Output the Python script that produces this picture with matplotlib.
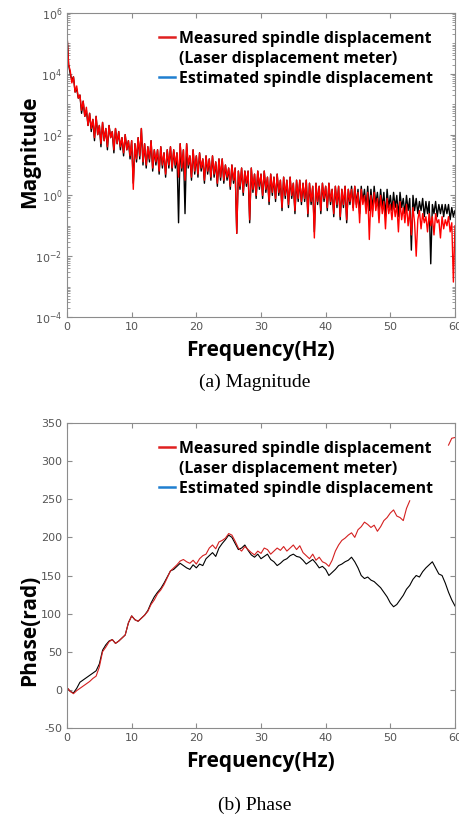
import numpy as np
import matplotlib.pyplot as plt
from matplotlib.lines import Line2D
from matplotlib.ticker import LogLocator, NullFormatter, FixedLocator

plt.rcParams['axes.unicode_minus'] = False

# magnitude spectra, log10 values, 0.25 Hz apart
mag_measured_log = [
    5.3, 4.3, 4.1, 3.7, 3.9, 3.4, 3.6, 3.2,
    3.3, 2.8, 3.1, 2.6, 2.9, 2.3, 2.7, 2.2,
    2.5, 1.9, 2.6, 2.0, 2.3, 1.7, 2.4, 1.8,
    2.2, 1.6, 2.3, 1.9, 2.1, 1.5, 2.2, 1.7,
    2.1, 1.6, 1.9, 1.4, 2.0, 1.5, 1.8, 1.3,
    1.8, 0.2, 1.7, 1.2, 1.9, 1.3, 2.2, 1.1,
    1.7, 1.0, 1.6, 1.2, 1.8, 0.9, 1.5, 1.1,
    1.5, 0.8, 1.6, 1.0, 1.4, 0.7, 1.5, 1.0,
    1.6, 0.9, 1.5, 1.0, 1.4, 0.6, 1.7, 0.9,
    1.5, 0.5, 1.7, 1.0, 1.3, 0.6, 1.5, 0.8,
    1.3, 0.7, 1.4, 0.9, 1.2, 0.5, 1.3, 0.8,
    1.2, 0.6, 1.3, 0.7, 1.1, 0.4, 1.2, 0.6,
    1.2, 0.5, 1.0, 0.6, 0.9, 0.3, 1.0, 0.5,
    0.9, -1.25, 0.8, 0.3, 0.9, 0.1, 0.8, 0.4,
    0.8, -0.8, 0.9, 0.2, 0.7, 0.0, 0.8, 0.3,
    0.7, 0.0, 0.8, 0.2, 0.6, -0.2, 0.7, 0.1,
    0.6, -0.1, 0.7, 0.1, 0.5, -0.4, 0.6, 0.0,
    0.5, -0.3, 0.6, 0.0, 0.4, -0.5, 0.5, -0.1,
    0.5, -0.2, 0.4, -0.1, 0.5, -0.6, 0.4, -0.2,
    0.3, -1.4, 0.4, -0.2, 0.3, -0.5, 0.4, -0.1,
    0.3, -0.4, 0.4, -0.2, 0.2, -0.6, 0.3, -0.3,
    0.3, -0.7, 0.2, -0.3, 0.3, -0.8, 0.2, -0.2,
    0.2, -0.5, 0.3, -0.4, 0.1, -0.9, 0.2, -0.3,
    0.0, -0.6, 0.1, -1.45, 0.0, -0.7, 0.1, -0.5,
    -0.1, -0.9, 0.0, -0.6, -0.2, -1.1, -0.1, -0.6,
    -0.3, -0.8, -0.2, -0.7, -0.3, -1.2, -0.2, -0.8,
    -0.4, -0.9, -0.3, -1.0, -0.5, -1.3, -0.4, -0.9,
    -2.0, -0.8, -0.5, -1.1, -0.6, -0.9, -0.7, -1.2,
    -0.6, -1.0, -0.7, -1.3, -0.6, -0.9, -0.8, -1.4,
    -0.7, -1.1, -0.8, -1.0, -0.7, -1.2, -0.9, -2.85,
    -1.0,
]
mag_estimated_log = [
    5.3, 4.3, 4.0, 3.8, 3.9, 3.4, 3.5, 3.2,
    3.3, 2.7, 3.1, 2.6, 2.8, 2.3, 2.7, 2.1,
    2.5, 1.8, 2.6, 2.0, 2.3, 1.6, 2.4, 1.8,
    2.2, 1.5, 2.3, 1.9, 2.1, 1.4, 2.2, 1.7,
    2.1, 1.5, 1.9, 1.3, 2.0, 1.5, 1.8, 1.2,
    1.8, 0.4, 1.7, 1.1, 1.9, 1.2, 2.2, 1.0,
    1.7, 0.9, 1.6, 1.1, 1.8, 0.8, 1.5, 1.0,
    1.5, 0.7, 1.6, 0.9, 1.4, 0.6, 1.5, 0.9,
    1.6, 0.8, 1.5, 0.9, 1.4, -0.9, 1.7, 0.8,
    1.5, -0.6, 1.7, 0.9, 1.3, 0.5, 1.5, 0.7,
    1.3, 0.6, 1.4, 0.8, 1.2, 0.4, 1.3, 0.7,
    1.2, 0.5, 1.3, 0.6, 1.1, 0.3, 1.2, 0.5,
    1.2, 0.4, 1.0, 0.5, 0.9, 0.2, 1.0, 0.4,
    0.9, -1.25, 0.8, 0.2, 0.9, 0.0, 0.8, 0.3,
    0.8, -0.9, 0.9, 0.1, 0.7, -0.1, 0.8, 0.2,
    0.7, -0.1, 0.8, 0.1, 0.6, -0.3, 0.7, 0.0,
    0.6, -0.2, 0.7, 0.0, 0.5, -0.5, 0.6, -0.1,
    0.5, -0.4, 0.6, -0.1, 0.4, -0.6, 0.5, -0.2,
    0.5, -0.3, 0.4, -0.2, 0.5, -0.7, 0.4, -0.3,
    0.3, -1.2, 0.4, -0.3, 0.3, -0.6, 0.4, -0.2,
    0.3, -0.5, 0.4, -0.3, 0.2, -0.7, 0.3, -0.4,
    0.3, -0.8, 0.2, -0.4, 0.3, -0.9, 0.2, -0.3,
    0.3, -0.4, 0.3, -0.3, 0.2, -0.6, 0.3, -0.2,
    0.2, -0.4, 0.3, -0.5, 0.2, -0.5, 0.3, -0.3,
    0.1, -0.5, 0.2, -0.4, 0.1, -0.7, 0.2, -0.4,
    0.0, -0.5, 0.1, -0.4, 0.0, -0.7, 0.1, -0.4,
    -0.1, -0.6, 0.0, -0.5, -0.1, -1.8, 0.0, -0.5,
    -0.1, -0.6, -0.2, -0.5, -0.1, -0.7, -0.2, -0.6,
    -0.2, -2.25, -0.3, -0.6, -0.2, -0.7, -0.3, -0.6,
    -0.3, -0.7, -0.3, -0.6, -0.3, -0.8, -0.4, -0.7,
    -0.5,
]

# phase (rad), 0.5 Hz apart; measured trace has a gap between 53 and 59 Hz
phase_measured = [
    3, -2, -5, -1, 2, 5, 8, 11, 15, 18,
    30, 50, 56, 63, 66, 61, 64, 68, 72, 88,
    97, 92, 90, 94, 98, 103, 112, 118, 126, 131,
    138, 147, 156, 160, 164, 169, 171, 168, 166, 170,
    165, 172, 176, 178, 186, 190, 185, 194, 196, 199,
    205, 203, 195, 186, 182, 188, 184, 180, 177, 182,
    179, 186, 184, 178, 182, 186, 183, 188, 182, 186,
    190, 184, 189, 180, 176, 172, 178, 170, 174, 168,
    166, 162, 170, 182, 190, 196, 199, 203, 206, 200,
    210, 214, 220, 217, 213, 216, 208, 214, 222, 226,
    232, 236, 228, 226, 222, 238, 248, np.nan, np.nan, np.nan,
    np.nan, np.nan, np.nan, np.nan, np.nan, np.nan, np.nan, np.nan, 321, 330,
    331,
]
phase_estimated = [
    3, -2, -4, 2, 10, 13, 16, 19, 22, 25,
    34, 52, 59, 64, 66, 61, 64, 68, 72, 88,
    97, 92, 90, 94, 98, 104, 114, 122, 128, 133,
    140, 148, 156, 158, 162, 166, 163, 160, 158, 164,
    160, 165, 163, 172, 176, 180, 175, 186, 192, 197,
    203, 200, 192, 184, 186, 190, 183, 177, 174, 178,
    172, 175, 178, 171, 168, 163, 166, 170, 172, 176,
    178, 175, 174, 170, 165, 168, 171, 166, 160, 162,
    158, 150, 154, 158, 163, 165, 168, 170, 174, 168,
    160, 150, 146, 148, 144, 142, 138, 134, 128, 122,
    114, 109, 112, 118, 124, 132, 137, 145, 150, 148,
    155, 160, 164, 168, 160, 152, 150, 140, 128, 118,
    110,
]

freq_mag = np.arange(len(mag_measured_log)) * 0.25
freq_phase = np.arange(len(phase_measured)) * 0.5

W, H = 459, 818
fig = plt.figure(figsize=(W / 100, H / 100), dpi=100)

tick_col = '#555555'
spine_col = '#8c8c8c'
lab_font = dict(family='Open Sans', weight='bold', size=15)
leg_font = dict(family='Open Sans', weight='bold', size=11.4)


def style_axes(ax):
    for s in ax.spines.values():
        s.set_color(spine_col)
        s.set_linewidth(0.8)
    ax.tick_params(which='both', direction='in', top=True, right=True,
                   colors=spine_col, labelcolor=tick_col, labelsize=8)
    ax.tick_params(which='major', length=3.5)
    ax.tick_params(which='minor', length=2)
    ax.set_xlim(0, 60)
    ax.set_xticks([0, 10, 20, 30, 40, 50, 60])
    ax.set_xlabel('Frequency(Hz)', fontdict=lab_font, labelpad=6)


def add_legend(ax):
    handles = [Line2D([], [], color='#e02020', lw=1.8),
               Line2D([], [], color='none'),
               Line2D([], [], color='#1f7fd0', lw=1.8)]
    labels = ['Measured spindle displacement',
              '(Laser displacement meter)',
              'Estimated spindle displacement']
    ax.legend(handles, labels, loc='upper right', bbox_to_anchor=(0.968, 0.972),
              frameon=False, prop=leg_font, handlelength=1.05,
              handletextpad=0.25, labelspacing=0.25, borderaxespad=0.2)


# (a) magnitude
ax1 = fig.add_axes([67 / W, 1 - 317 / H, 388 / W, 304 / H])
ax1.plot(freq_mag, 10 ** np.array(mag_estimated_log), color='black', lw=1.0)
ax1.plot(freq_mag, 10 ** np.array(mag_measured_log), color='red', lw=1.0)
ax1.set_yscale('log')
ax1.set_ylim(1e-4, 1e6)
ax1.yaxis.set_major_locator(FixedLocator([1e-4, 1e-2, 1e0, 1e2, 1e4, 1e6]))
ax1.yaxis.set_minor_locator(LogLocator(base=10, subs=np.arange(1, 10), numticks=100))
ax1.yaxis.set_minor_formatter(NullFormatter())
style_axes(ax1)
add_legend(ax1)
fig.text(30 / W, 1 - 152 / H, 'Magnitude', rotation=90, ha='center', va='center', **lab_font)
fig.text(255 / W, 1 - 382 / H, '(a) Magnitude', ha='center', va='center',
         family='Liberation Serif', size=14)

# (b) phase
ax2 = fig.add_axes([67 / W, 1 - 728 / H, 388 / W, 305 / H])
ax2.plot(freq_phase, phase_estimated, color='black', lw=0.8)
ax2.plot(freq_phase, phase_measured, color='#d42020', lw=0.8)
ax2.set_ylim(-50, 350)
ax2.set_yticks(np.arange(-50, 351, 50))
style_axes(ax2)
add_legend(ax2)
fig.text(30 / W, 1 - 630 / H, 'Phase(rad)', rotation=90, ha='center', va='center', **lab_font)
fig.text(255 / W, 1 - 805 / H, '(b) Phase', ha='center', va='center',
         family='Liberation Serif', size=14)

fig.savefig('out.png', dpi=100)
